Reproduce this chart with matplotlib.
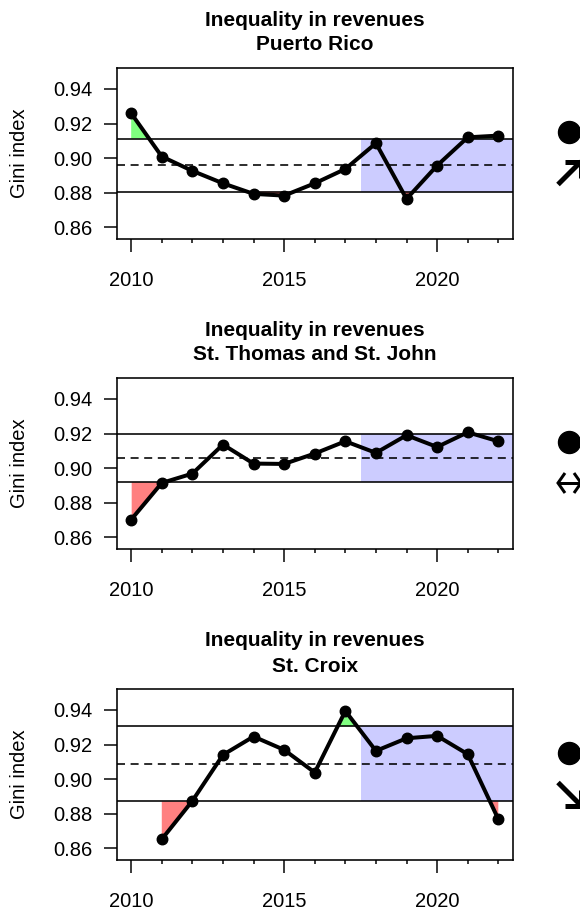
import numpy as np
import matplotlib
matplotlib.use("Agg")
import matplotlib.pyplot as plt
from matplotlib.patches import Ellipse
from matplotlib.lines import Line2D

plt.rcParams['font.family'] = ['Liberation Sans', 'DejaVu Sans']

# --- data -------------------------------------------------------------
title_main = "Inequality in revenues"
regions = ["Puerto Rico", "St. Thomas and St. John", "St. Croix"]

years_pr = list(range(2010, 2023))
gini_pr = [0.9259, 0.9009, 0.8926, 0.8854, 0.8793, 0.8783, 0.8854,
           0.8937, 0.9086, 0.8764, 0.8957, 0.9120, 0.9130]

years_stt = list(range(2010, 2023))
gini_stt = [0.8702, 0.8914, 0.8968, 0.9136, 0.9026, 0.9024, 0.9084,
            0.9155, 0.9088, 0.9190, 0.9122, 0.9207, 0.9155]

years_stx = list(range(2011, 2023))
gini_stx = [0.8652, 0.8874, 0.9140, 0.9246, 0.9169, 0.9038, 0.9394,
            0.9163, 0.9236, 0.9250, 0.9144, 0.8768]

# recent-period status: mean within +/-1 sd (dot) and trend direction
trends = ["up", "flat", "down"]

ytick_vals = [0.86, 0.88, 0.90, 0.92, 0.94]
ytick_labels = ["0.86", "0.88", "0.90", "0.92", "0.94"]
xtick_major = [2010, 2015, 2020]
xtick_minor = list(range(2010, 2023))
recent_start = 2017.5

series = [(years_pr, gini_pr), (years_stt, gini_stt), (years_stx, gini_stx)]

# --- layout (pixels) ----------------------------------------------------
W, H, DPI = 580, 911, 100
fig = plt.figure(figsize=(W / DPI, H / DPI), dpi=DPI)


def fx(px):
    return px / W


def fy(py):
    return 1 - py / H


def pt(px):
    return px * 72 / DPI


def stroke(points, width):
    xs = [fx(p[0]) for p in points]
    ys = [fy(p[1]) for p in points]
    fig.add_artist(Line2D(xs, ys, transform=fig.transFigure, color="black",
                          lw=pt(width), solid_capstyle="butt",
                          solid_joinstyle="miter"))


ax_left, ax_right = 116.5, 513
ax_tops = [68, 378, 689]
ax_h = 171
xlim = (2009.52, 2022.48)
ylim = (0.8532, 0.9521)

BLUE = "#CCCCFF"
GREEN = "#80FF80"
RED = "#FF8080"

for top, region, (yrs, vals), trend in zip(ax_tops, regions, series, trends):
    ax = fig.add_axes([fx(ax_left), fy(top + ax_h),
                       (ax_right - ax_left) / W, ax_h / H])
    x = np.array(yrs, dtype=float)
    y = np.array(vals)
    m = y.mean()
    s = y.std(ddof=1)
    hi, lo = m + s, m - s

    ax.fill_between([recent_start, xlim[1]], lo, hi, color=BLUE, lw=0, zorder=1)
    ax.fill_between(x, y, hi, where=y > hi, interpolate=True,
                    color=GREEN, lw=0, zorder=2)
    ax.fill_between(x, y, lo, where=y < lo, interpolate=True,
                    color=RED, lw=0, zorder=2)
    ax.axhline(hi, color="black", lw=pt(1.6), zorder=3)
    ax.axhline(lo, color="black", lw=pt(1.6), zorder=3)
    ax.axhline(m, color="black", lw=pt(1.6), ls=(0, (5, 3.5)), zorder=3)
    ax.plot(x, y, color="black", lw=pt(4), marker="o", ms=pt(10.5),
            zorder=4, clip_on=False)

    ax.set_xlim(*xlim)
    ax.set_ylim(*ylim)
    ax.set_xticks(xtick_major)
    ax.set_xticks(xtick_minor, minor=True)
    ax.set_xticklabels([str(v) for v in xtick_major])
    ax.set_yticks(ytick_vals)
    ax.set_yticklabels(ytick_labels)
    ax.tick_params(axis="x", which="major", length=pt(13), width=pt(1.5),
                   pad=pt(19), labelsize=14.5)
    ax.tick_params(axis="x", which="minor", length=pt(3.5), width=pt(1.5))
    ax.tick_params(axis="y", which="major", length=pt(13), width=pt(1.5),
                   pad=pt(11), labelsize=14.5)
    for sp in ax.spines.values():
        sp.set_linewidth(pt(1.6))

    fig.text(fx(20), fy(top + ax_h / 2), "Gini index", rotation=90,
             ha="center", va="center", fontsize=14.5)

    cx = fx((ax_left + ax_right) / 2)
    fig.text(cx, fy(top - 42.5), title_main, ha="center", va="baseline",
             fontsize=15, fontweight="bold")
    fig.text(cx, fy(top - 17.5), region, ha="center", va="baseline",
             fontsize=15, fontweight="bold")

    # status symbols to the right of each panel
    sx = 569.5
    fig.add_artist(Ellipse((fx(sx), fy(top + 64.5)), 22 / W, 22 / H,
                           transform=fig.transFigure, color="black"))
    ay = top + 105
    x0, x1 = 558, 581
    if trend == "up":
        tip = (x1, ay - 11.5)
        stroke([(x0, ay + 11.5), tip], 5)
        stroke([(x1 - 16, tip[1]), tip, (x1, tip[1] + 16)], 5)
    elif trend == "down":
        tip = (x1, ay + 11.5)
        stroke([(x0, ay - 11.5), tip], 5)
        stroke([(x1 - 16, tip[1]), tip, (x1, tip[1] - 16)], 5)
    else:
        stroke([(x0, ay), (x1, ay)], 3)
        stroke([(x0 + 7, ay - 10), (x0, ay), (x0 + 7, ay + 10)], 3)
        stroke([(x1 - 7, ay - 10), (x1, ay), (x1 - 7, ay + 10)], 3)

fig.savefig("out.png", dpi=DPI)
